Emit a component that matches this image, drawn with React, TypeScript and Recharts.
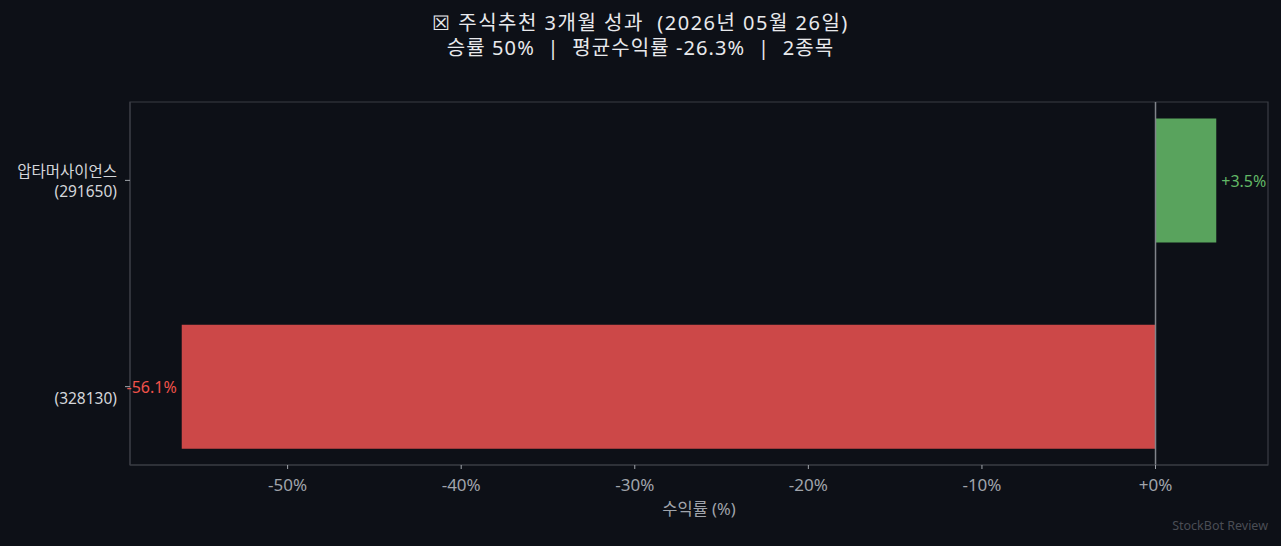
import React from 'react';
import { BarChart, Bar, XAxis, YAxis, ReferenceLine, ReferenceArea, Cell, LabelList } from 'recharts';

// ---- data ----
const stockNames = ['압타머사이언스', ''];
const stockCodes = ['291650', '328130'];
const returns = [3.5, -56.1];
const xTicks = [-50, -40, -30, -20, -10, 0];
const titleLine1 = '☒ 주식추천 3개월 성과  (2026년 05월 26일)';
const titleLine2 = '승률 50%  |  평균수익률 -26.3%  |  2종목';
const xLabel = '수익률 (%)';
const watermark = 'StockBot Review';

const data = returns.map((r, i) => ({ idx: i, ret: r }));

// axis limits like matplotlib auto margins (5%)
const minV = Math.min(0, ...returns);
const maxV = Math.max(0, ...returns);
const span = maxV - minV;
const xDomain: [number, number] = [minV - span * 0.05, maxV + span * 0.05];
const yLo = -0.3;
const yHi = returns.length - 1 + 0.3;
const yDomain: [number, number] = [yLo - (yHi - yLo) * 0.05, yHi + (yHi - yLo) * 0.05];
const yTicks = returns.map((_, i) => i);

const BG = '#0d1017';
const FRAME = '#3a3d45';
const FONT = '"Noto Sans", "Noto Sans CJK KR", sans-serif';

if (typeof document !== 'undefined') {
  document.body.style.margin = '0';
  document.body.style.background = BG;
}

const fmtPct = (v: number) => (v >= 0 ? `+${v}%` : `${v}%`);

const YTick = (props: any) => {
  const { x, y, payload } = props;
  const i = payload.value as number;
  return (
    <g>
      {stockNames[i] ? (
        <text x={x} y={y - 3.5} textAnchor="end" fill="#d4d6da" fontSize={15.5} fontFamily={FONT}>
          {stockNames[i]}
        </text>
      ) : null}
      <text x={x} y={y + 17} textAnchor="end" fill="#d4d6da" fontSize={15.5} fontFamily={FONT}>
        ({stockCodes[i]})
      </text>
    </g>
  );
};

const BarLabel = (props: any) => {
  const { x, y, width, height, value } = props;
  const pos = value >= 0;
  const x0 = Math.min(x, x + width);
  const x1 = Math.max(x, x + width);
  return (
    <text
      x={pos ? x1 + 5 : x0 - 5}
      y={y + height / 2}
      textAnchor={pos ? 'start' : 'end'}
      dominantBaseline="central"
      fill={pos ? '#62b866' : '#f0524a'}
      fontSize={16}
      fontFamily={FONT}
    >
      {pos ? `+${value.toFixed(1)}%` : `${value.toFixed(1)}%`}
    </text>
  );
};

export default function App() {
  return (
    <div style={{ position: 'absolute', left: 0, top: 0, width: 1281, height: 546, background: BG, fontFamily: FONT }}>
      <div
        style={{
          position: 'absolute', left: 0, top: 9.5, width: 1281, textAlign: 'center', color: '#e8e9ec',
          fontSize: 20, lineHeight: '25px', whiteSpace: 'pre',
        }}
      >
        <div style={{ letterSpacing: 1.5 }}>{titleLine1}</div>
        <div style={{ letterSpacing: 1.1 }}>{titleLine2}</div>
      </div>
      <BarChart
        width={1281}
        height={546}
        data={data}
        layout="vertical"
        margin={{ top: 102, right: 13, bottom: 0, left: 0 }}
        barCategoryGap="20%"
        style={{ position: 'absolute', left: 0, top: 0 }}
      >
        <ReferenceArea x1={xDomain[0]} x2={xDomain[1]} fill="none" stroke={FRAME} strokeWidth={1.2} ifOverflow="visible" />
        <XAxis
          type="number"
          dataKey="ret"
          domain={xDomain}
          ticks={xTicks}
          allowDataOverflow
          tickFormatter={fmtPct}
          height={81}
          tickSize={4}
          tickMargin={10}
          axisLine={{ stroke: FRAME }}
          tickLine={{ stroke: '#a0a4ab' }}
          tick={{ fill: '#a0a4ab', fontSize: 17, fontFamily: FONT }}
        />
        <YAxis
          type="number"
          dataKey="idx"
          domain={yDomain}
          ticks={yTicks}
          allowDataOverflow
          width={130}
          tickSize={5}
          tickMargin={8}
          axisLine={{ stroke: FRAME }}
          tickLine={{ stroke: '#a0a4ab' }}
          tick={<YTick />}
          interval={0}
        />
        <Bar dataKey="ret" isAnimationActive={false}>
          {data.map((d, i) => (
            <Cell key={i} fill={d.ret >= 0 ? '#59a35d' : '#cc4848'} />
          ))}
          <LabelList dataKey="ret" content={<BarLabel />} />
        </Bar>
        <ReferenceLine x={0} stroke="#80838a" strokeWidth={1.5} />
      </BarChart>
      <div
        style={{
          position: 'absolute', left: 130, width: 1138, top: 497, textAlign: 'center', color: '#a0a4ab',
          fontSize: 16.5, lineHeight: '24px',
        }}
      >
        {xLabel}
      </div>
      <div
        style={{
          position: 'absolute', right: 13, top: 516, color: '#4a4d55', fontSize: 12.5, lineHeight: '20px',
        }}
      >
        {watermark}
      </div>
    </div>
  );
}
